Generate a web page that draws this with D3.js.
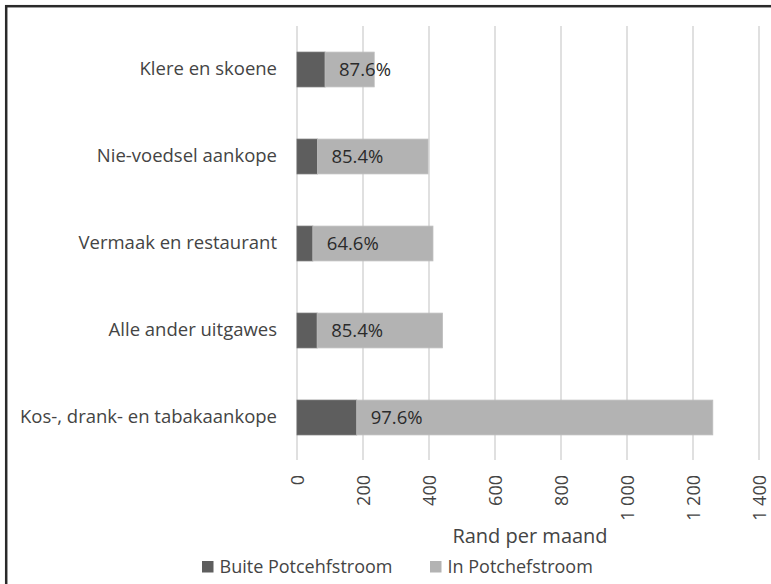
<!DOCTYPE html>
<html>
<head>
<meta charset="utf-8">
<script src="https://cdn.jsdelivr.net/npm/d3@7"></script>
<style>
  body { margin: 0; background: #fff; }
  svg { display: block; font-family: 'Open Sans', sans-serif; }
</style>
</head>
<body>
<svg></svg>
<script>
// Chart data
const categories = ['Klere en skoene', 'Nie-voedsel aankope', 'Vermaak en restaurant', 'Alle ander uitgawes', 'Kos-, drank- en tabakaankope']
const outside = [85, 62, 48, 61, 181]       // Buite Potcehfstroom
const inside = [149, 335, 364, 380, 1079]   // In Potchefstroom
const shareLabels = ['87.6%', '85.4%', '64.6%', '85.4%', '97.6%']
const tickValues = [0, 200, 400, 600, 800, 1000, 1200, 1400]
const tickLabels = ['0', '200', '400', '600', '800', '1 000', '1 200', '1 400']
const seriesNames = ['Buite Potcehfstroom', 'In Potchefstroom']
const colors = ['#5e5e5e', '#b3b3b3']

// Canvas setup
let width = 771
let height = 584
let svg = d3.select('svg')
    .attr('width', width)
    .attr('height', height)

// outer frame (only top/left visible in the crop)
svg.append('rect')
    .attr('x', 6.2).attr('y', 6.2)
    .attr('width', width + 20).attr('height', height + 20)
    .attr('fill', 'none')
    .attr('stroke', '#2a2a2a')
    .attr('stroke-width', 2.5)

let rows = categories.map((c, i) => ({ cat: c, out: outside[i], inn: inside[i], lab: shareLabels[i] }))

// Scales
let xScale = d3.scaleLinear().domain([0, 1400]).range([297, 759])
let yScale = d3.scaleBand().domain(categories).range([26, 461])
    .paddingInner(0.6).paddingOuter(0.3)

// Gridlines
svg.append('g').selectAll('line')
    .data(tickValues)
    .enter()
    .append('line')
    .attr('x1', d => xScale(d)).attr('x2', d => xScale(d))
    .attr('y1', 26).attr('y2', 460)
    .attr('stroke', '#d9d9d9')
    .attr('stroke-width', 1.6)

// x axis (rotated labels)
let xAxis = d3.axisBottom(xScale)
    .tickValues(tickValues)
    .tickFormat((d, i) => tickLabels[i])
    .tickSize(0)
let gx = svg.append('g')
    .attr('transform', 'translate(0,460)')
    .call(xAxis)
gx.select('.domain').remove()
gx.selectAll('text')
    .attr('transform', 'rotate(-90)')
    .attr('x', -15).attr('y', 0).attr('dy', '0.35em')
    .attr('text-anchor', 'end')
    .attr('font-size', 18)
    .attr('font-family', "'Open Sans', sans-serif")
    .attr('fill', '#444')

// y axis labels
let yAxis = d3.axisLeft(yScale).tickSize(0).tickPadding(20)
let gy = svg.append('g')
    .attr('transform', 'translate(297,0)')
    .call(yAxis)
gy.select('.domain').remove()
gy.selectAll('text')
    .attr('font-size', 18.5)
    .attr('font-family', "'Open Sans', sans-serif")
    .attr('fill', '#444')

// Bars
let bars = svg.append('g')
bars.selectAll('rect.out')
    .data(rows)
    .enter()
    .append('rect')
    .attr('class', 'out')
    .attr('x', xScale(0))
    .attr('y', d => yScale(d.cat))
    .attr('width', d => xScale(d.out) - xScale(0))
    .attr('height', yScale.bandwidth())
    .attr('fill', colors[0])
    .attr('stroke', '#6a6a6a').attr('stroke-width', 0.8)
bars.selectAll('rect.inn')
    .data(rows)
    .enter()
    .append('rect')
    .attr('class', 'inn')
    .attr('x', d => xScale(d.out))
    .attr('y', d => yScale(d.cat))
    .attr('width', d => xScale(d.out + d.inn) - xScale(d.out))
    .attr('height', yScale.bandwidth())
    .attr('fill', colors[1])
    .attr('stroke', '#bdbdbd').attr('stroke-width', 0.8)

// Percentage labels
bars.selectAll('text')
    .data(rows)
    .enter()
    .append('text')
    .attr('x', d => xScale(d.out) + 14)
    .attr('y', d => yScale(d.cat) + yScale.bandwidth() / 2)
    .attr('dy', '0.36em')
    .attr('font-size', 18.5)
    .attr('fill', '#2b2b2b')
    .text(d => d.lab)

// Axis title
svg.append('text')
    .attr('x', 530).attr('y', 543)
    .attr('text-anchor', 'middle')
    .attr('font-size', 20)
    .attr('fill', '#444')
    .text('Rand per maand')

// Legend
let legendX = [202, 430]
let legend = svg.append('g')
    .selectAll('g')
    .data(seriesNames)
    .enter()
    .append('g')
    .attr('transform', (d, i) => 'translate(' + legendX[i] + ',561)')
legend.append('rect')
    .attr('width', 11.5).attr('height', 11.5)
    .attr('fill', (d, i) => colors[i])
legend.append('text')
    .attr('x', 17.5).attr('y', 5.8).attr('dy', '0.36em')
    .attr('font-size', 18)
    .attr('fill', '#444')
    .text(d => d)
</script>
</body>
</html>
